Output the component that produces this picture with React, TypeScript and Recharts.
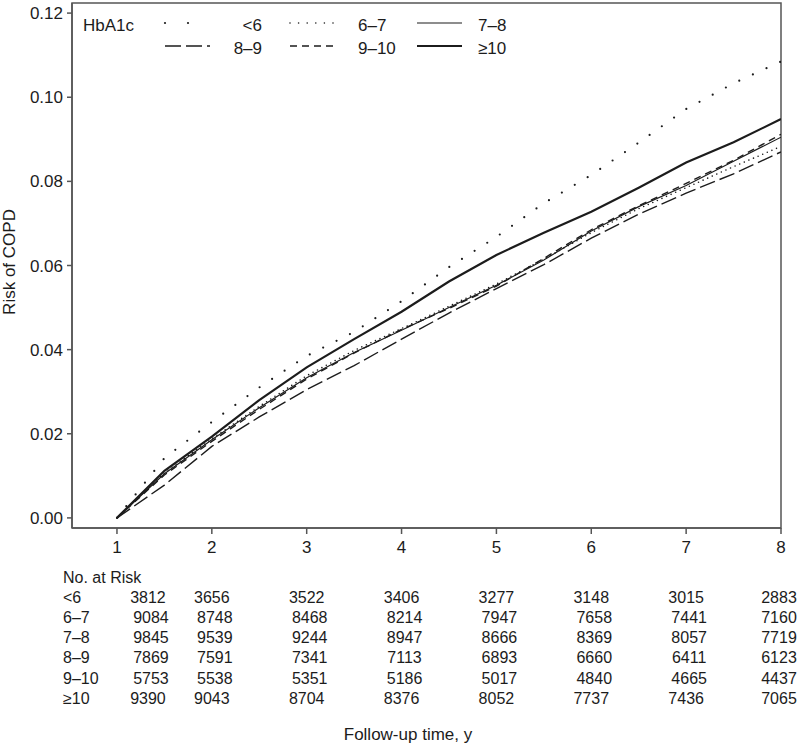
import React from "react";
import { LineChart, Line, XAxis, YAxis, ReferenceArea } from "recharts";

const years = [1, 1.5, 2, 2.5, 3, 3.5, 4, 4.5, 5, 5.5, 6, 6.5, 7, 7.5, 8];

// cumulative risk of COPD by HbA1c group
const riskLt6 = [0, 0.0142, 0.0228, 0.031, 0.0385, 0.0442, 0.0515, 0.0596, 0.0668, 0.0748, 0.0815, 0.0892, 0.0972, 0.1033, 0.1085];
const risk6to7 = [0, 0.0108, 0.0188, 0.0265, 0.0338, 0.0398, 0.045, 0.0503, 0.0556, 0.0615, 0.0678, 0.0735, 0.0785, 0.0835, 0.0883];
const risk7to8 = [0, 0.0105, 0.0186, 0.0262, 0.0333, 0.0393, 0.0446, 0.05, 0.0553, 0.0613, 0.0682, 0.074, 0.079, 0.0848, 0.0905];
const risk8to9 = [0, 0.0078, 0.017, 0.024, 0.0305, 0.0362, 0.0425, 0.0487, 0.0545, 0.0602, 0.0665, 0.0722, 0.0772, 0.0818, 0.087];
const risk9to10 = [0, 0.0102, 0.0182, 0.0258, 0.033, 0.0392, 0.0448, 0.0498, 0.0551, 0.0617, 0.0685, 0.0742, 0.0795, 0.085, 0.0912];
const riskGe10 = [0, 0.0112, 0.0193, 0.028, 0.0358, 0.0425, 0.049, 0.0562, 0.0625, 0.0678, 0.0728, 0.0785, 0.0845, 0.0893, 0.0948];

// number at risk table
const atRiskYears = [1, 2, 3, 4, 5, 6, 7, 8];
const atRiskLt6 = [3812, 3656, 3522, 3406, 3277, 3148, 3015, 2883];
const atRisk6to7 = [9084, 8748, 8468, 8214, 7947, 7658, 7441, 7160];
const atRisk7to8 = [9845, 9539, 9244, 8947, 8666, 8369, 8057, 7719];
const atRisk8to9 = [7869, 7591, 7341, 7113, 6893, 6660, 6411, 6123];
const atRisk9to10 = [5753, 5538, 5351, 5186, 5017, 4840, 4665, 4437];
const atRiskGe10 = [9390, 9043, 8704, 8376, 8052, 7737, 7436, 7065];

const xTicks = [1, 2, 3, 4, 5, 6, 7, 8];
const yTicks = [0, 0.02, 0.04, 0.06, 0.08, 0.1, 0.12];

const X_MIN = 0.526;
const X_MAX = 8;
const Y_MIN = -0.0024;
const Y_MAX = 0.1224;

const W = 800;
const H = 745;
const PLOT_LEFT = 72;
const PLOT_RIGHT = 781;
const INK = "#1c1c1c";
const FRAME = "#555";
const FONT = '"Liberation Sans", Arial, Helvetica, sans-serif';

const series = [
  { key: "lt6", label: "<6", values: riskLt6, atRisk: atRiskLt6, width: 2.2, dash: "0 15", cap: "round" },
  { key: "g67", label: "6–7", values: risk6to7, atRisk: atRisk6to7, width: 1.6, dash: "0 5", cap: "round" },
  { key: "g78", label: "7–8", values: risk7to8, atRisk: atRisk7to8, width: 1.2, dash: undefined, cap: "butt" },
  { key: "g89", label: "8–9", values: risk8to9, atRisk: atRisk8to9, width: 1.4, dash: "16 5", cap: "butt" },
  { key: "g910", label: "9–10", values: risk9to10, atRisk: atRisk9to10, width: 1.4, dash: "7 5", cap: "butt" },
  { key: "ge10", label: "≥10", values: riskGe10, atRisk: atRiskGe10, width: 2.2, dash: undefined, cap: "butt" },
];

const data = years.map((t, i) => {
  const row: Record<string, number> = { t };
  series.forEach((s) => (row[s.key] = s.values[i]));
  return row;
});

const xPx = (t: number) => PLOT_LEFT + ((t - X_MIN) / (X_MAX - X_MIN)) * (PLOT_RIGHT - PLOT_LEFT);

// legend grid: 3 columns, 2 rows
const legendCols = [
  { x1: 165, x2: 210, tx: 262, anchor: "end" },
  { x1: 290, x2: 337, tx: 358, anchor: "start" },
  { x1: 417, x2: 462, tx: 478, anchor: "start" },
];
const legendRows = [25, 48];

function Legend() {
  return (
    <g>
      <text x={83} y={legendRows[0]} fontSize={17} fill={INK} dominantBaseline="central">
        HbA1c
      </text>
      {series.map((s, i) => {
        const col = legendCols[i % 3];
        const y = legendRows[Math.floor(i / 3)];
        return (
          <g key={s.key}>
            {s.key === "lt6" ? (
              <>
                <circle cx={col.x1} cy={y - 2} r={1.1} fill={INK} />
                <circle cx={col.x1 + 23} cy={y - 2} r={1.1} fill={INK} />
              </>
            ) : (
              <line
                x1={col.x1}
                x2={col.x2}
                y1={y - 2}
                y2={y - 2}
                stroke={INK}
                strokeWidth={s.width}
                strokeDasharray={s.key === "g67" ? "0 8.6" : s.dash}
                strokeLinecap={s.cap as any}
              />
            )}
            <text x={col.tx} y={y} fontSize={17} fill={INK} textAnchor={col.anchor as any} dominantBaseline="central">
              {s.label}
            </text>
          </g>
        );
      })}
    </g>
  );
}

function AtRiskTable() {
  const rowY = [597, 617, 637, 657, 678, 698];
  const last = atRiskYears.length - 1;
  const colX = (c: number, r: number) => {
    if (c === last) return xPx(atRiskYears[c]) - 2;
    const shift = r > 0 && r < 5 ? 3 : 0;
    return xPx(atRiskYears[c]) + (c === 0 ? 31 : 0) + shift;
  };
  return (
    <g fontSize={16} fill={INK}>
      <text x={63} y={577} dominantBaseline="central">
        No. at Risk
      </text>
      {series.map((s, r) => (
        <g key={s.key}>
          <text x={63} y={rowY[r]} dominantBaseline="central">
            {s.label}
          </text>
          {s.atRisk.map((n, c) => (
            <text key={c} x={colX(c, r)} y={rowY[r]} textAnchor="middle" dominantBaseline="central">
              {n}
            </text>
          ))}
        </g>
      ))}
    </g>
  );
}

export default function App() {
  return (
    <div style={{ position: "absolute", left: 0, top: 0, width: W, height: H, background: "#fff", fontFamily: FONT }}>
      <LineChart width={W} height={H} data={data} margin={{ top: 3, right: W - PLOT_RIGHT, bottom: 177, left: 0 }}>
        <XAxis
          dataKey="t"
          type="number"
          domain={[X_MIN, X_MAX]}
          ticks={xTicks}
          allowDataOverflow
          height={40}
          tickSize={6}
          tickMargin={7}
          stroke={FRAME}
          strokeWidth={1.5}
          tick={{ fill: INK, fontSize: 17 }}
        />
        <YAxis
          type="number"
          domain={[Y_MIN, Y_MAX]}
          ticks={yTicks}
          allowDataOverflow
          width={PLOT_LEFT}
          tickSize={5}
          tickMargin={4}
          stroke={FRAME}
          strokeWidth={1.5}
          tickFormatter={(v: number) => v.toFixed(2)}
          tick={{ fill: INK, fontSize: 17 }}
        />
        <ReferenceArea
          x1={X_MIN}
          x2={X_MAX}
          y1={Y_MIN}
          y2={Y_MAX}
          fill="none"
          fillOpacity={0}
          stroke={FRAME}
          strokeWidth={1.5}
          ifOverflow="visible"
        />
        {series.map((s) => (
          <Line
            key={s.key}
            dataKey={s.key}
            type="linear"
            stroke={INK}
            strokeWidth={s.width}
            strokeDasharray={s.dash}
            strokeLinecap={s.cap as any}
            dot={false}
            activeDot={false}
            isAnimationActive={false}
          />
        ))}
      </LineChart>
      <svg width={W} height={H} style={{ position: "absolute", left: 0, top: 0, pointerEvents: "none" }}>
        <Legend />
        <AtRiskTable />
        <text
          x={9}
          y={262}
          fontSize={17}
          fill={INK}
          textAnchor="middle"
          dominantBaseline="central"
          transform="rotate(-90 9 262)"
        >
          Risk of COPD
        </text>
        <text x={408} y={734} fontSize={17} fill={INK} textAnchor="middle" dominantBaseline="central">
          Follow-up time, y
        </text>
      </svg>
    </div>
  );
}
